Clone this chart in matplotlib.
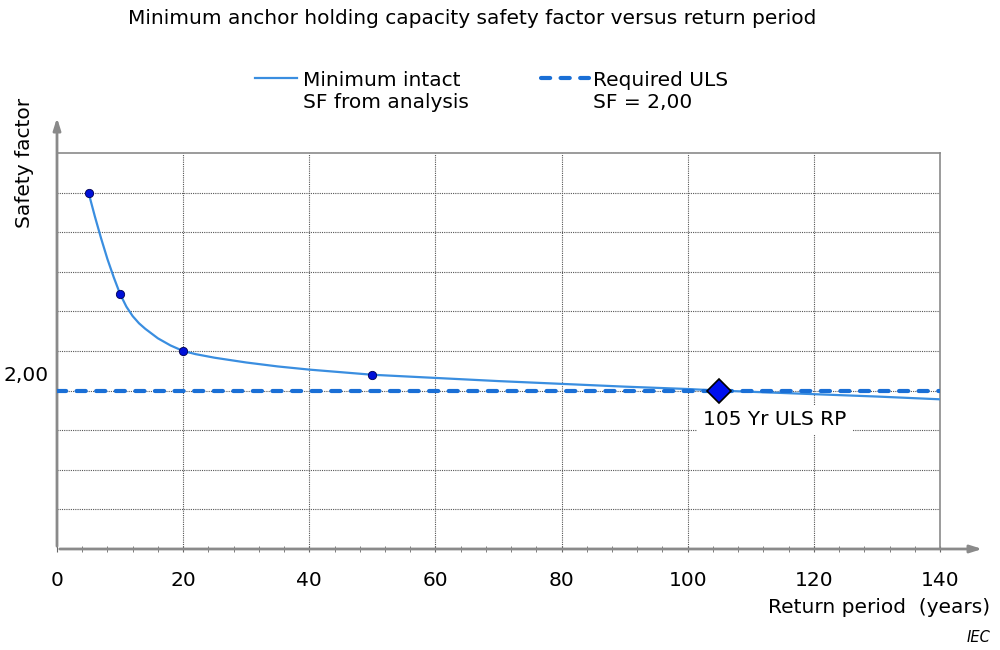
import matplotlib
matplotlib.use("Agg")
import matplotlib.pyplot as plt
from matplotlib.lines import Line2D
from matplotlib.ticker import MultipleLocator

plt.rcParams['font.family'] = ['DejaVu Sans']

# ---- data ----
title = "Minimum anchor holding capacity safety factor versus return period"
curve_x = [5, 6, 7, 8, 9, 10, 11, 12, 13, 14, 16, 18, 20, 22, 25, 30, 35, 40, 50, 60, 70, 80, 90,
           100, 105, 110, 120, 130, 140]
curve_y = [4.50, 4.20, 3.92, 3.66, 3.43, 3.22, 3.06, 2.94, 2.85, 2.78, 2.66, 2.57, 2.50, 2.46,
           2.415, 2.355, 2.305, 2.265, 2.20, 2.16, 2.12, 2.085, 2.05, 2.02, 2.00, 1.985, 1.955,
           1.925, 1.89]
point_x = [5, 10, 20, 50]
point_y = [4.50, 3.22, 2.50, 2.20]
required_sf = 2.0
uls_rp = 105
x_ticks = [0, 20, 40, 60, 80, 100, 120, 140]
legend_labels = ["Minimum intact\nSF from analysis", "Required ULS\nSF = 2,00"]
annot_text = "105 Yr ULS RP"

FS = 14.5

fig = plt.figure(figsize=(10, 6.5), dpi=100)
ax = fig.add_axes([0.057, 0.1554, 0.883, 0.6092])

ax.set_xlim(0, 140)
ax.set_ylim(0, 5)

grid_kw = dict(color='#555555', linestyle=(0, (1, 1)), linewidth=0.8)
for gx in x_ticks[1:-1]:
    ax.axvline(gx, zorder=1, **grid_kw)
for i in range(1, 10):
    ax.axhline(i * 0.5, zorder=1, **grid_kw)

ax.plot(curve_x, curve_y, color='#3a8ee0', lw=1.6, zorder=3)
ax.plot([0, 140], [required_sf, required_sf], color='#1a6fd6', lw=3.0,
        linestyle=(0, (2.2, 2.5)), dash_capstyle='round', zorder=4)
ax.plot(point_x, point_y, 'o', color='#0010d8', markeredgecolor='#000050',
        markeredgewidth=0.6, markersize=6, zorder=5)
ax.plot([uls_rp], [required_sf], 'D', color='#0010f0', markeredgecolor='black',
        markeredgewidth=1.2, markersize=12, zorder=6)
ax.text(113.8, 1.63, annot_text, fontsize=FS, ha='center', va='center',
        bbox=dict(facecolor='white', edgecolor='none', pad=4), zorder=7)

# spines
for s in ['top', 'right']:
    ax.spines[s].set_color('#8a8a8a')
    ax.spines[s].set_linewidth(1.2)
for s in ['left', 'bottom']:
    ax.spines[s].set_visible(False)
arrow_kw = dict(arrowstyle='-|>,head_length=0.7,head_width=0.22', color='#8a8a8a', lw=2.0)
ax.annotate('', xy=(0, 1.096), xytext=(0, 0), xycoords='axes fraction',
            textcoords='axes fraction', arrowprops=arrow_kw, annotation_clip=False)
ax.annotate('', xy=(1.051, 0), xytext=(0, 0), xycoords='axes fraction',
            textcoords='axes fraction', arrowprops=arrow_kw, annotation_clip=False)

ax.set_xticks(x_ticks)
ax.set_xticklabels([str(t) for t in x_ticks], fontsize=FS)
ax.xaxis.set_minor_locator(MultipleLocator(4))
ax.tick_params(axis='x', which='major', length=5, direction='inout', color='#666666', pad=13)
ax.tick_params(axis='x', which='minor', length=5, direction='inout', color='#666666')
ax.set_yticks([])

ax.text(-1.4, required_sf + 0.07, "2,00", fontsize=FS, ha='right', va='bottom')

fig.text(0.472, 0.972, title, fontsize=14.5, ha='center', va='center')
fig.text(0.025, 0.75, "Safety factor", fontsize=FS, rotation=90, ha='center', va='center')
fig.text(0.99, 0.065, "Return period  (years)", fontsize=FS, ha='right', va='center')
fig.text(0.99, 0.02, "IEC", fontsize=10.5, style='italic', ha='right', va='center')

# legend (manual, handle aligned with first text line)
ly = 1 - 78 / 650
ty = 1 - 91 / 650
fig.add_artist(Line2D([0.255, 0.297], [ly, ly], transform=fig.transFigure,
                      color='#3a8ee0', lw=1.6))
fig.add_artist(Line2D([0.541, 0.589], [ly, ly], transform=fig.transFigure,
                      color='#1a6fd6', lw=3.0, linestyle=(0, (2.2, 2.5)), dash_capstyle='round'))
fig.text(0.303, ty, legend_labels[0], fontsize=FS, ha='left', va='center', linespacing=1.2)
fig.text(0.593, ty, legend_labels[1], fontsize=FS, ha='left', va='center', linespacing=1.2)

fig.savefig("out.png", dpi=100)
